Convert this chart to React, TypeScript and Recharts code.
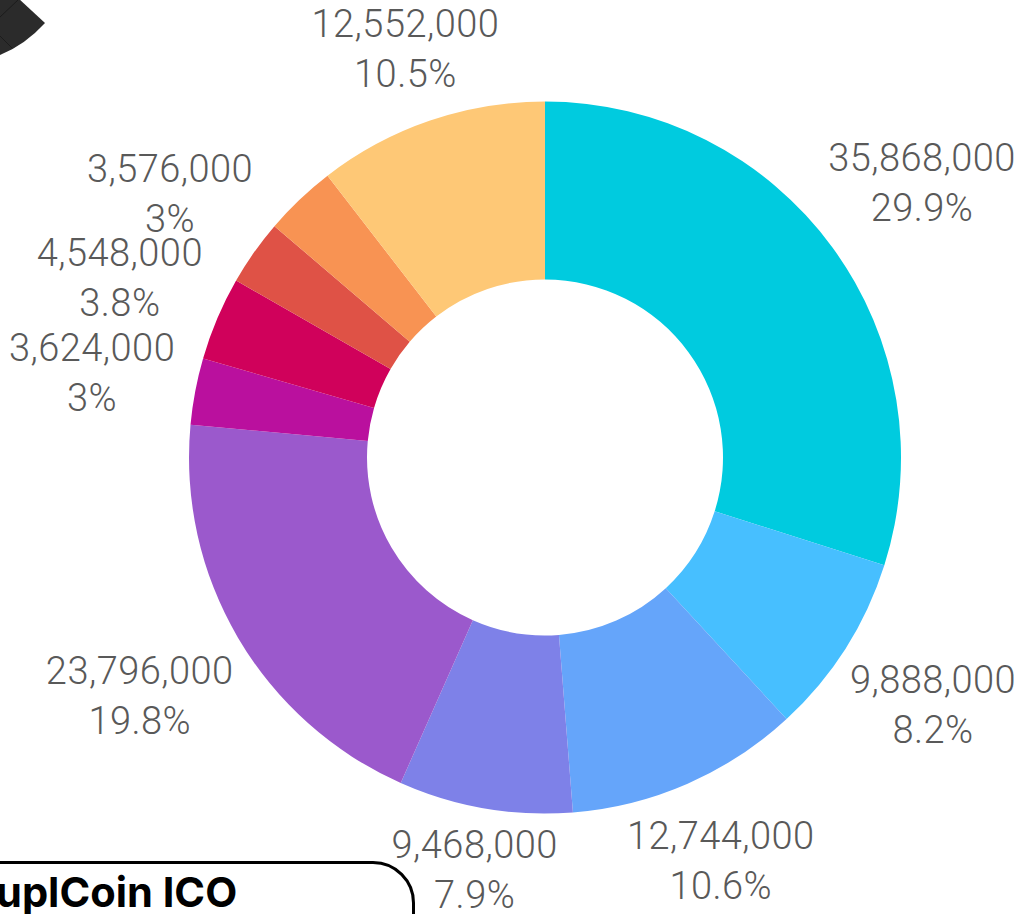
import { PieChart, Pie, Cell } from "recharts";

const names = ["a", "b", "c", "d", "e", "f", "g", "h", "i", "j"];
const values = [35868000, 9888000, 12744000, 9468000, 23796000, 3624000, 4548000, 3576000, 3936000, 12552000];
const colors = ["#00CBDF", "#47BFFF", "#65A5FA", "#7E81E8", "#9B59CC", "#BA109E", "#D0015B", "#DF5246", "#F89353", "#FEC876"];
// the reference drops the label of this slice (it would collide with its neighbour)
const hiddenLabels = ["i"];

const data = names.map((name, i) => ({ name, value: values[i] }));
const RADIAN = Math.PI / 180;

function renderLabel(props: any) {
  const { cx, cy, midAngle, outerRadius, value, percent, index } = props;
  if (hiddenLabels.includes(names[index])) return null;
  const text = value.toLocaleString("en-US");
  const pct = `${parseFloat((percent * 100).toFixed(1))}%`;
  const sin = Math.sin(-midAngle * RADIAN);
  const cos = Math.cos(-midAngle * RADIAN);
  // push the two-line block out until its box clears the ring
  const halfW = text.length * 11 - 17;
  const r = outerRadius + 19 + halfW * Math.abs(cos) + 29 * Math.abs(sin);
  const x = cx + r * cos;
  const y = cy + r * sin;
  return (
    <text x={x} y={y} textAnchor="middle" fill="#595959" fontFamily="Roboto" fontWeight={300} fontSize={38} letterSpacing={0.45}>
      <tspan x={x} y={y - 11}>{text}</tspan>
      <tspan x={x} y={y + 39}>{pct}</tspan>
    </text>
  );
}

export default function App() {
  return (
    <div style={{ position: "absolute", left: 0, top: 0, width: 1025, height: 914, overflow: "hidden", background: "#fff" }}>
      <svg width={60} height={60} style={{ position: "absolute", left: 0, top: 0 }}>
        <path d="M0 0 L18 -2 L45 23 Q25 45 0 55 Z" fill="#2b2b2b" />
        <path d="M18 0 L0 17 M0 36 L12 48" stroke="#1c1c1c" strokeWidth={1} fill="none" />
      </svg>
      <div
        style={{
          position: "absolute",
          left: -101,
          top: 861,
          width: 510,
          height: 120,
          border: "3px solid #000",
          borderRadius: 42,
          boxSizing: "content-box",
        }}
      />
      <div
        style={{
          position: "absolute",
          left: -4,
          top: 867,
          fontFamily: "Inter",
          fontWeight: 700,
          fontSize: 41.6,
          lineHeight: "50px",
          color: "#000",
          whiteSpace: "nowrap",
        }}
      >
        uplCoin ICO
      </div>
      <div style={{ position: "absolute", left: 0, top: 0 }}>
        <PieChart width={1025} height={914} margin={{ top: 0, right: 0, bottom: 0, left: 0 }}>
          <Pie
            data={data}
            dataKey="value"
            nameKey="name"
            cx={545}
            cy={457.5}
            innerRadius={178}
            outerRadius={356}
            startAngle={90}
            endAngle={-270}
            stroke="none"
            label={renderLabel}
            labelLine={false}
            isAnimationActive={false}
          >
            {names.map((n, i) => (
              <Cell key={n} fill={colors[i]} />
            ))}
          </Pie>
        </PieChart>
      </div>
    </div>
  );
}
